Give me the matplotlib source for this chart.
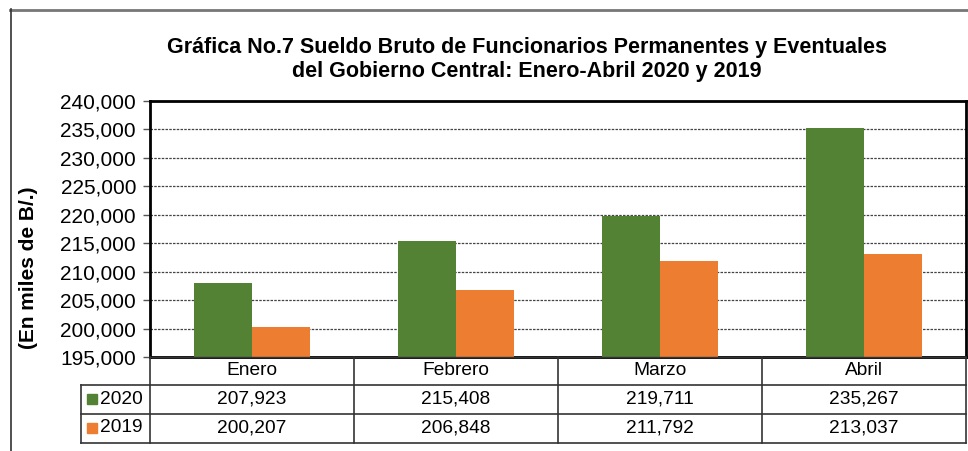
import numpy as np
import matplotlib.pyplot as plt
from matplotlib.patches import Rectangle
from matplotlib.lines import Line2D

plt.rcParams['font.family'] = ['Liberation Sans', 'DejaVu Sans']

meses = ["Enero", "Febrero", "Marzo", "Abril"]
anios = ["2020", "2019"]
v2020 = [207923, 215408, 219711, 235267]
v2019 = [200207, 206848, 211792, 213037]
colores = ["#548235", "#ED7D31"]

W, H = 968, 451
fig = plt.figure(figsize=(W / 100, H / 100), dpi=100)

# pixel helpers (origin top-left)
def fx(px):
    return px / W

def fy(py):
    return 1 - py / H

x0, x1 = 150, 966
y0, y1 = 101, 357
ax = fig.add_axes([fx(x0), fy(y1), fx(x1 - x0), (y1 - y0) / H])

n = len(meses)
x = np.arange(n)
w = 0.284
ax.bar(x - w / 2, v2020, w, color=colores[0], zorder=3)
ax.bar(x + w / 2, v2019, w, color=colores[1], zorder=3)

ax.set_xlim(-0.5, n - 0.5)
ax.set_ylim(195000, 240000)
ax.set_yticks(np.arange(195000, 240001, 5000))
ax.yaxis.set_major_formatter(plt.FuncFormatter(lambda v, p: f"{int(v):,}"))
ax.tick_params(axis='y', labelsize=15, length=5, width=1, color='#555555', pad=5)
ax.tick_params(axis='x', bottom=False, labelbottom=False)
ax.grid(axis='y', linestyle=(0, (2, 1)), color='#444444', linewidth=0.9, zorder=1)
for s in ax.spines.values():
    s.set_linewidth(2)
    s.set_color('black')

fig.text(fx(29), fy(268), "(En miles de B/.)", rotation=90, ha='center', va='center',
         fontsize=15, fontweight='bold')

# title
fig.text(fx(527), fy(47), "Gráfica No.7 Sueldo Bruto de Funcionarios Permanentes y Eventuales",
         ha='center', va='center', fontsize=15.5, fontweight='bold')
fig.text(fx(527), fy(72), "del Gobierno Central: Enero-Abril 2020 y 2019",
         ha='center', va='center', fontsize=15.5, fontweight='bold')

# outer border
fig.add_artist(Line2D([fx(10), fx(968)], [fy(9.5), fy(9.5)], color='#777777', lw=2))
fig.add_artist(Line2D([fx(10.5), fx(10.5)], [fy(9), fy(451)], color='#333333', lw=1.2))

# data table
col_w = (x1 - x0) / n
rows = [357, 384.5, 413.5, 442.5]
tc = '#333333'
fig.add_artist(Line2D([fx(x0), fx(x1)], [fy(rows[0]), fy(rows[0])], color=tc, lw=1))
for r in rows[1:]:
    fig.add_artist(Line2D([fx(81), fx(x1)], [fy(r), fy(r)], color=tc, lw=1.2))
for i in range(n + 1):
    xx = x0 + i * col_w
    fig.add_artist(Line2D([fx(xx), fx(xx)], [fy(rows[0]), fy(rows[-1])], color=tc, lw=1.2))
fig.add_artist(Line2D([fx(81), fx(81)], [fy(rows[1]), fy(rows[-1])], color=tc, lw=1.2))

for i, m in enumerate(meses):
    cx = x0 + (i + 0.5) * col_w
    fig.text(fx(cx), fy((rows[0] + rows[1]) / 2), m, ha='center', va='center', fontsize=13.8)
    for j, vals in enumerate([v2020, v2019]):
        fig.text(fx(cx), fy((rows[j + 1] + rows[j + 2]) / 2), f"{vals[i]:,}",
                 ha='center', va='center', fontsize=13.8)

for j, a in enumerate(anios):
    cy = (rows[j + 1] + rows[j + 2]) / 2
    fig.add_artist(Rectangle((fx(87), fy(cy + 5)), fx(10), 10 / H, color=colores[j]))
    fig.text(fx(100), fy(cy), a, ha='left', va='center', fontsize=13.8)

fig.savefig("out.png", dpi=100)
